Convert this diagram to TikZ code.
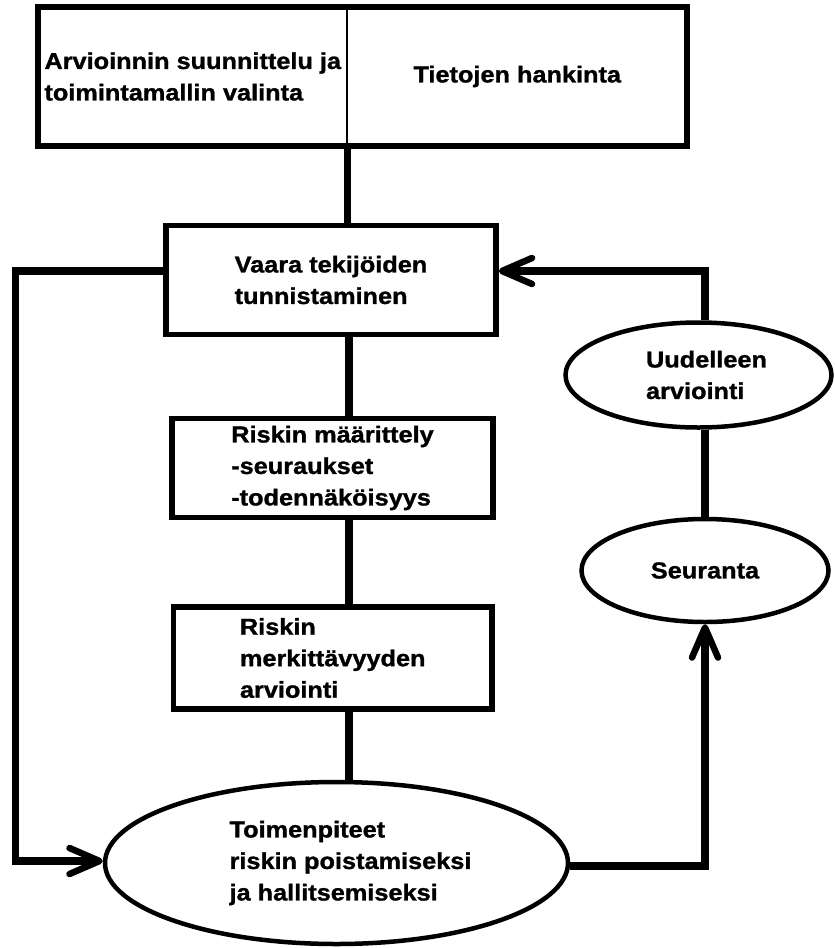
\documentclass[tikz,border=0pt]{standalone}
\usepackage{fontspec}
\newfontfamily\diafont{Liberation Sans}[FakeStretch=1.1,FakeBold=1.2]
\usetikzlibrary{shapes.geometric,arrows.meta}

\tikzset{
  openbarb/.tip={Straight Barb[length=30pt,width=26pt,line width=6.5pt,round]},
  lbl/.style={font=\diafont\bfseries\fontsize{23}{31.5}\selectfont, align=left, inner sep=0pt},
  stepbox/.style={lbl, draw, rectangle, line width=5.5pt},
  halfbox/.style={lbl, rectangle},
  oval/.style={draw, ellipse, line width=4.5pt},
  conn/.style={line width=7.5pt},
}

\begin{document}
\begin{tikzpicture}[x=1pt,y=-1pt]
  \useasboundingbox[fill=white] (0,0) rectangle (835,948);

  % planning stage: one frame split into two halves
  \node[halfbox, minimum width=309.5pt, minimum height=138pt] (plan) at (192.75,76.5)
    {Arvioinnin suunnittelu ja\\toimintamallin valinta};
  \node[halfbox, minimum width=339.5pt, minimum height=138pt] (tiedot) at (517.25,76.5)
    {Tietojen hankinta};
  \draw[line width=6pt] (plan.north west) rectangle (tiedot.south east);
  \draw[line width=2pt] (tiedot.north west) -- (tiedot.south west);

  % main chain of steps
  \node[stepbox, minimum width=330pt, minimum height=109pt] (vaara) at (331,280)
    {Vaara tekijöiden\\tunnistaminen};
  \node[stepbox, minimum width=321pt, minimum height=99pt] (riski) at (332.5,468)
    {Riskin määrittely\\-seuraukset\\-todennäköisyys};
  \node[stepbox, minimum width=318.5pt, minimum height=102pt] (merk) at (332.75,658)
    {Riskin\\merkittävyyden\\arviointi};
  \node[oval, minimum width=463pt, minimum height=162pt,
        label={[lbl, xshift=14pt]center:{Toimenpiteet\\riskin poistamiseksi\\ja hallitsemiseksi}}]
    (toim) at (336.5,863) {};

  % follow-up loop
  \node[oval, minimum width=266pt, minimum height=105pt,
        label={[lbl, xshift=8pt]center:{Uudelleen\\arviointi}}]
    (uud) at (698.5,375) {};
  \node[oval, minimum width=247pt, minimum height=103pt,
        label={[lbl]center:{Seuranta}}]
    (seur) at (705,570.5) {};

  % rails for the connectors
  \coordinate (spine) at (349,0);
  \coordinate (leftrail) at (15.5,600);

  % vertical spine
  \draw[conn] (tiedot.south west) -- (tiedot.south west |- vaara.north);
  \draw[conn] (vaara.south -| spine) -- (riski.north -| spine);
  \draw[conn] (riski.south -| spine) -- (merk.north -| spine);
  \draw[conn] (merk.south -| spine) -- (toim.north -| spine);

  % left return to the measures
  \draw[conn, -openbarb] ([yshift=9pt]vaara.west) -| (leftrail) |- ([yshift=2pt]toim.west);

  % measures -> monitoring -> re-evaluation -> hazard identification
  \draw[conn, -openbarb] ([yshift=-3pt]toim.east) -| (seur.south);
  \draw[conn] (uud.south -| seur.north) -- (seur.north);
  \draw[conn, -openbarb] (uud.north -| seur.north) |- ([yshift=9pt]vaara.east);
\end{tikzpicture}
\end{document}
